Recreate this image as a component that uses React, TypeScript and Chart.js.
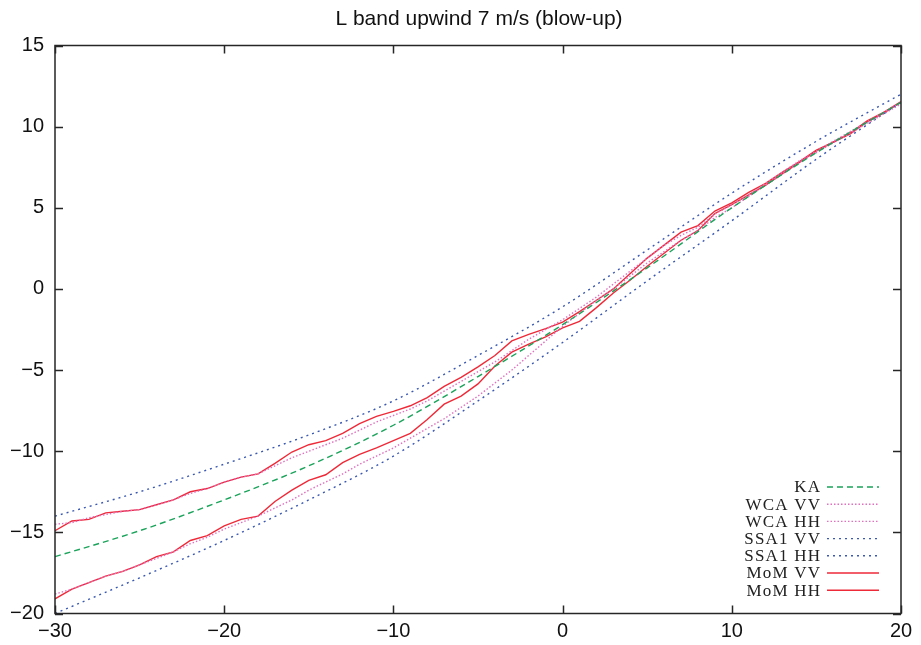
import React, { useEffect, useRef } from "react";
import { Chart, registerables } from "chart.js";

Chart.register(...registerables);

const TITLE = "L band upwind 7 m/s (blow-up)";

const momAngles = [
  -30, -29, -28, -27, -26, -25, -24, -23, -22, -21, -20, -19, -18, -17, -16, -15, -14, -13, -12, -11, -10,
  -9, -8, -7, -6, -5, -4, -3, -2, -1, 0, 1, 2, 3, 4, 5, 6, 7, 8, 9, 10, 11, 12, 13, 14, 15, 16, 17, 18, 19, 20,
];

const momVV = [
  -14.9, -14.3, -14.2, -13.8, -13.7, -13.6, -13.3, -13.0, -12.5, -12.3, -11.9, -11.6, -11.4, -10.75, -10.05,
  -9.6, -9.35, -8.9, -8.3, -7.85, -7.55, -7.2, -6.7, -6.0, -5.45, -4.8, -4.1, -3.2, -2.8, -2.45, -2.05, -1.4,
  -0.7, 0.0, 0.95, 1.9, 2.7, 3.5, 3.9, 4.8, 5.3, 5.95, 6.5, 7.2, 7.85, 8.55, 9.05, 9.6, 10.35, 10.9, 11.55,
];

const momHH = [
  -19.1, -18.5, -18.1, -17.7, -17.4, -17.0, -16.5, -16.2, -15.5, -15.2, -14.6, -14.2, -14.0, -13.1, -12.4,
  -11.8, -11.45, -10.7, -10.2, -9.8, -9.35, -8.9, -8.05, -7.1, -6.6, -5.85, -4.75, -3.9, -3.4, -2.95, -2.4,
  -2.0, -1.15, -0.25, 0.55, 1.4, 2.2, 3.0, 3.6, 4.65, 5.2, 5.8, 6.4, 7.1, 7.8, 8.5, 9.05, 9.55, 10.3, 10.85,
  11.5,
];

const wcaVV = [
  -14.5, -14.4, -14.1, -13.9, -13.7, -13.6, -13.3, -13.0, -12.6, -12.3, -11.9, -11.6, -11.4, -10.9, -10.4,
  -10.0, -9.6, -9.2, -8.7, -8.2, -7.8, -7.4, -6.9, -6.3, -5.7, -5.1, -4.5, -3.8, -3.1, -2.5, -1.9, -1.2, -0.5,
  0.3, 1.1, 1.9, 2.7, 3.3, 3.8, 4.6, 5.2, 5.8, 6.5, 7.2, 7.9, 8.5, 9.1, 9.7, 10.3, 10.9, 11.5,
];

const wcaHH = [
  -18.8, -18.5, -18.1, -17.7, -17.4, -17.0, -16.6, -16.2, -15.7, -15.3, -14.8, -14.4, -14.0, -13.5, -13.0,
  -12.4, -11.9, -11.4, -10.8, -10.3, -9.8, -9.2, -8.6, -8.0, -7.3, -6.6, -5.8, -5.0, -4.1, -3.2, -2.3, -1.5,
  -0.7, 0.0, 0.8, 1.6, 2.3, 3.0, 3.6, 4.4, 5.0, 5.7, 6.4, 7.1, 7.8, 8.4, 9.0, 9.6, 10.2, 10.8, 11.4,
];

const smoothAngles = [-30, -25, -20, -15, -10, -5, 0, 5, 10, 15, 20];
const kaValues = [-16.5, -14.9, -13.0, -10.9, -8.4, -5.4, -2.2, 1.3, 5.0, 8.4, 11.5];
const ssaVV = [-14.0, -12.5, -10.8, -9.0, -6.9, -4.1, -1.1, 2.4, 5.9, 9.1, 12.0];
const ssaHH = [-20.0, -17.8, -15.5, -13.0, -10.3, -6.9, -3.3, 0.5, 4.2, 8.0, 11.5];

const xTickValues = [-30, -20, -10, 0, 10, 20];
const yTickValues = [-20, -15, -10, -5, 0, 5, 10, 15];

const GREEN = "#1aa35a";
const PINK = "#e070c0";
const BLUE = "#3a58b0";
const RED = "#ee2a38";

const toPts = (xs: number[], ys: number[]) => xs.map((x, i) => ({ x, y: ys[i] }));

const seriesDefs = [
  { label: "KA", xs: smoothAngles, ys: kaValues, color: GREEN, dash: [6, 4], smooth: true },
  { label: "WCA VV", xs: momAngles, ys: wcaVV, color: PINK, dash: [1.5, 2], smooth: true },
  { label: "WCA HH", xs: momAngles, ys: wcaHH, color: PINK, dash: [1.5, 2], smooth: true },
  { label: "SSA1 VV", xs: smoothAngles, ys: ssaVV, color: BLUE, dash: [2, 4], smooth: true },
  { label: "SSA1 HH", xs: smoothAngles, ys: ssaHH, color: BLUE, dash: [2, 4], smooth: true },
  { label: "MoM VV", xs: momAngles, ys: momVV, color: RED, dash: [], smooth: false },
  { label: "MoM HH", xs: momAngles, ys: momHH, color: RED, dash: [], smooth: false },
];

const fmt = (v: number) => (v < 0 ? "\u2212" + Math.abs(v) : String(v));

const SANS = '"Liberation Sans", Arial, sans-serif';

const decorPlugin = {
  id: "decor",
  afterDraw(chart: any) {
    const { ctx, chartArea, scales } = chart;
    const { left, right, top, bottom } = chartArea;
    const xs = scales.x;
    const ys = scales.y;
    ctx.save();
    ctx.strokeStyle = "#262626";
    ctx.lineWidth = 1.5;
    ctx.setLineDash([]);
    ctx.strokeRect(left, top, right - left, bottom - top);
    const tl = 8;
    ctx.beginPath();
    xTickValues.forEach((v) => {
      const p = Math.round(xs.getPixelForValue(v)) + 0.5;
      ctx.moveTo(p, bottom);
      ctx.lineTo(p, bottom - tl);
      ctx.moveTo(p, top);
      ctx.lineTo(p, top + tl);
    });
    yTickValues.forEach((v) => {
      const p = Math.round(ys.getPixelForValue(v)) + 0.5;
      ctx.moveTo(left, p);
      ctx.lineTo(left + tl, p);
      ctx.moveTo(right, p);
      ctx.lineTo(right - tl, p);
    });
    ctx.stroke();

    // title
    ctx.fillStyle = "#111";
    ctx.font = "21px " + SANS;
    ctx.textAlign = "center";
    ctx.textBaseline = "middle";
    ctx.fillText(TITLE, 479, 19);

    // legend
    ctx.font = '17px "Liberation Serif", "DejaVu Serif", serif';
    (ctx as any).letterSpacing = "1.2px";
    ctx.textAlign = "right";
    const textRight = 821.2;
    const lineX0 = 827;
    const lineX1 = 879;
    const y0 = 487;
    const dy = 17.2;
    seriesDefs.forEach((s, i) => {
      const yy = y0 + i * dy;
      ctx.fillStyle = "#222";
      ctx.fillText(s.label, textRight, yy + 1);
      ctx.strokeStyle = s.color;
      ctx.lineWidth = 1.4;
      ctx.setLineDash(s.dash);
      ctx.beginPath();
      ctx.moveTo(lineX0, yy);
      ctx.lineTo(lineX1, yy);
      ctx.stroke();
    });
    (ctx as any).letterSpacing = "0px";
    ctx.restore();
  },
};

export default function App() {
  const ref = useRef<HTMLCanvasElement | null>(null);
  useEffect(() => {
    document.body.style.margin = "0";
    const canvas = ref.current;
    if (!canvas) return;
    const chart = new Chart(canvas, {
      type: "line",
      data: {
        datasets: seriesDefs.map((s) => ({
          label: s.label,
          data: toPts(s.xs, s.ys),
          borderColor: s.color,
          backgroundColor: s.color,
          borderWidth: 1.4,
          borderDash: s.dash,
          pointRadius: 0,
          fill: false,
          cubicInterpolationMode: s.smooth && s.xs.length < 20 ? "monotone" : "default",
          tension: 0,
        })),
      },
      options: {
        responsive: false,
        animation: false,
        layout: { padding: { top: 45.5, right: 20, left: 0, bottom: 0 } },
        plugins: {
          legend: { display: false },
          title: { display: false },
          tooltip: { enabled: false },
        },
        scales: {
          x: {
            type: "linear",
            min: -30,
            max: 20,
            afterFit: (s: any) => {
              s.height = 31.5;
            },
            afterBuildTicks: (s: any) => {
              s.ticks = xTickValues.map((v) => ({ value: v }));
            },
            grid: { display: false, drawTicks: false },
            border: { display: false },
            ticks: {
              color: "#111",
              font: { family: SANS, size: 20 },
              padding: 6,
              maxRotation: 0,
              callback: (v: any) => fmt(Number(v)),
            },
          },
          y: {
            type: "linear",
            min: -20,
            max: 15,
            afterFit: (s: any) => {
              s.width = 55;
            },
            afterBuildTicks: (s: any) => {
              s.ticks = yTickValues.map((v) => ({ value: v }));
            },
            grid: { display: false, drawTicks: false },
            border: { display: false },
            ticks: {
              color: "#111",
              font: { family: SANS, size: 20 },
              padding: 11,
              callback: (v: any) => fmt(Number(v)),
            },
          },
        },
      },
      plugins: [decorPlugin],
    });
    return () => chart.destroy();
  }, []);
  return (
    <div style={{ width: 921, height: 645 }}>
      <canvas ref={ref} width={921} height={645} />
    </div>
  );
}
